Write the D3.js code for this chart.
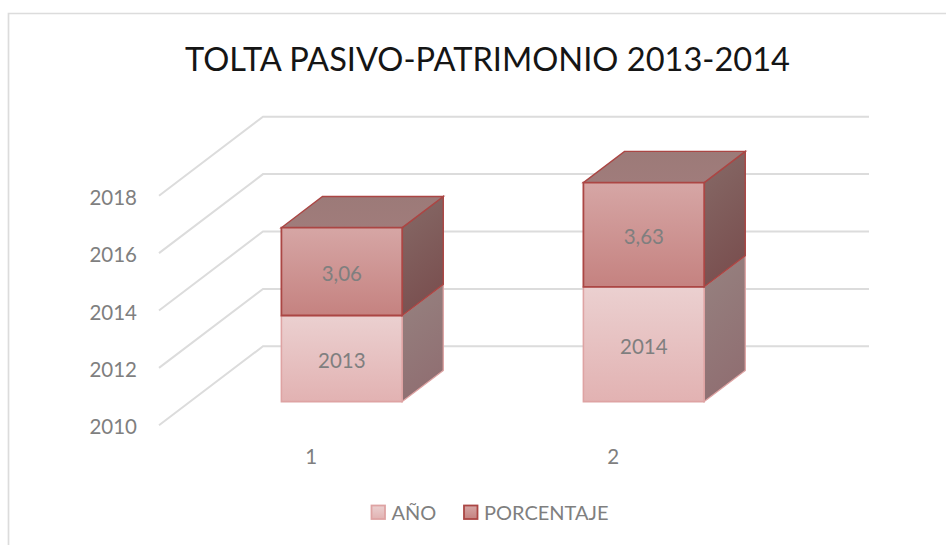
<!DOCTYPE html>
<html><head><meta charset="utf-8">
<script src="https://cdn.jsdelivr.net/npm/d3@7"></script>
<style>html,body{margin:0;background:#fff;overflow:hidden}svg{display:block;font-family:Lato,'Open Sans',sans-serif}</style>
</head><body><svg id="c" width="946" height="545"></svg>
<script>
const title = "TOLTA PASIVO-PATRIMONIO 2013-2014";
const categories = [1, 2];
const seriesNames = ["AÑO", "PORCENTAJE"];
const anio = [2013, 2014];
const porcentaje = [3.06, 3.63];
const porcentajeLabels = ["3,06", "3,63"];
const yTicks = [2010, 2012, 2014, 2016, 2018];

const svg = d3.select("#c");
const GRID = "#dcdcdc", TEXT = "#7f7f7f";
const DX = 104, DY = -79;           // oblique depth vector
const y = d3.scaleLinear().domain([2010, 2018]).range([425.3, 195.7]);
const wall = d3.scaleLinear().domain([0, 1]).range([159, 765]);
const x = d3.scaleBand().domain(categories).range([159.6, 763.6]).paddingInner(0.6).paddingOuter(0.3);
const D0 = 0.3, D1 = 0.695;

// gradients
const defs = svg.append("defs");
function grad(id, c0, c1, diag) {
  const g = defs.append("linearGradient").attr("id", id)
    .attr("x1", 0).attr("y1", 0).attr("x2", diag ? 0.3 : 0).attr("y2", 1);
  g.append("stop").attr("offset", 0).attr("stop-color", c0);
  g.append("stop").attr("offset", 1).attr("stop-color", c1);
}
grad("fa", "#ebd0d0", "#e2b2b2");
grad("fp", "#d6a6a5", "#c58280");
grad("sa", "#968280", "#906f72", true);
grad("sp", "#866a67", "#7a5050", true);
grad("tp", "#9c7a78", "#a07c7b");

// frame
const frame = d3.line()([[8.5, 545], [8.5, 13.5], [946, 13.5]]);
svg.append("path").attr("d", frame).attr("fill", "none").attr("stroke", GRID).attr("stroke-width", 1.7);

// title
svg.append("text").attr("x", 487.5).attr("y", 71).attr("text-anchor", "middle")
  .attr("font-size", 32.6).attr("fill", "#151515").text(title);

// gridlines (floor/side diagonal + back wall)
const line = d3.line();
svg.append("g").selectAll("path").data(yTicks).join("path")
  .attr("fill", "none").attr("stroke", GRID).attr("stroke-width", 2)
  .attr("d", t => line([
    [wall(0), y(t)],
    [wall(0) + DX, y(t) + DY],
    [wall(1) + DX, y(t) + DY]
  ]));

// axes
const yAxis = d3.axisLeft(y).tickValues(yTicks).tickSize(0).tickPadding(0).tickFormat(d3.format("d"));
const gy = svg.append("g").attr("transform", "translate(137,2)").call(yAxis);
const xAxis = d3.axisBottom(x).tickSize(0).tickPadding(0);
const gx = svg.append("g").attr("transform", "translate(0.5,449)").call(xAxis);
[gy, gx].forEach(g => {
  g.select(".domain").remove();
  g.selectAll("text").attr("font-size", 20.5).attr("fill", TEXT).attr("font-family", "Lato");
});

// bars
function pt(px, v, d) { return [px + DX * d, y(v) + DY * d]; }
function poly(pts) { return line(pts) + "Z"; }
const bars = svg.append("g").selectAll("g").data(categories.map((c, i) => ({
  c, a: anio[i], p: anio[i] + porcentaje[i], lab: porcentajeLabels[i]
}))).join("g");

bars.each(function (b) {
  const g = d3.select(this);
  const l = x(b.c), r = l + x.bandwidth();
  const S_A = "#dea3a3", S_P = "#ab4644";
  // AÑO side
  g.append("path").attr("d", poly([pt(r, 2010, D0), pt(r, 2010, D1), pt(r, b.a, D1), pt(r, b.a, D0)]))
    .attr("fill", "url(#sa)").attr("stroke", S_A).attr("stroke-width", 1.3);
  // AÑO front
  g.append("path").attr("d", poly([pt(l, 2010, D0), pt(r, 2010, D0), pt(r, b.a, D0), pt(l, b.a, D0)]))
    .attr("fill", "url(#fa)").attr("stroke", S_A).attr("stroke-width", 1.6);
  // PORCENTAJE side
  g.append("path").attr("d", poly([pt(r, b.a, D0), pt(r, b.a, D1), pt(r, b.p, D1), pt(r, b.p, D0)]))
    .attr("fill", "url(#sp)").attr("stroke", S_P).attr("stroke-width", 1.4);
  // PORCENTAJE top
  g.append("path").attr("d", poly([pt(l, b.p, D0), pt(r, b.p, D0), pt(r, b.p, D1), pt(l, b.p, D1)]))
    .attr("fill", "url(#tp)").attr("stroke", S_P).attr("stroke-width", 1.4);
  // PORCENTAJE front
  g.append("path").attr("d", poly([pt(l, b.a, D0), pt(r, b.a, D0), pt(r, b.p, D0), pt(l, b.p, D0)]))
    .attr("fill", "url(#fp)").attr("stroke", S_P).attr("stroke-width", 1.8);
  // labels
  const cx = (l + r) / 2 + DX * D0;
  g.append("text").attr("x", cx).attr("y", (y(2010) + y(b.a)) / 2 + DY * D0 + 2.5).attr("dy", "0.35em")
    .attr("text-anchor", "middle").attr("font-size", 20.5).attr("fill", TEXT).text(b.a);
  g.append("text").attr("x", cx).attr("y", (y(b.a) + y(b.p)) / 2 + DY * D0 + 2.5).attr("dy", "0.35em")
    .attr("text-anchor", "middle").attr("font-size", 20.5).attr("fill", TEXT).text(b.lab);
});

// legend
const lx = d3.scalePoint().domain(seriesNames).range([371.5, 464]);
const leg = svg.append("g").selectAll("g").data(seriesNames).join("g")
  .attr("transform", d => `translate(${lx(d)},505.5)`);
leg.append("rect").attr("width", 13.5).attr("height", 13.5)
  .attr("fill", (d, i) => i ? "url(#fp)" : "url(#fa)")
  .attr("stroke", (d, i) => i ? "#ab4644" : "#dea3a3").attr("stroke-width", 1.8);
leg.append("text").attr("x", 20).attr("y", 14.5).attr("font-size", 20).attr("fill", TEXT).text(d => d);
</script></body></html>
